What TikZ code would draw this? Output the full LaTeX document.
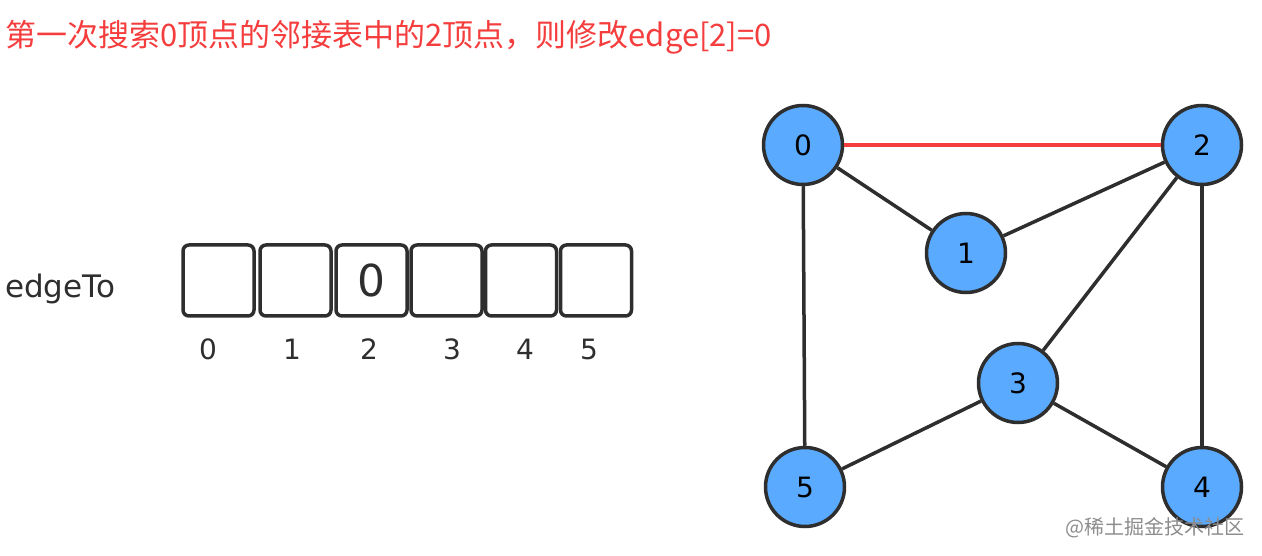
\documentclass[tikz,border=0pt]{standalone}
\usepackage{fontspec}
\setmainfont{DejaVu Sans}
\newfontfamily\cjk{Noto Sans CJK SC}
\usepackage{xcolor}
\usetikzlibrary{positioning, shapes.geometric, calc}

\definecolor{vertexblue}{HTML}{5AAAFF}
\definecolor{edgegray}{HTML}{2E2E2E}
\definecolor{titlered}{HTML}{F53D3D}

\begin{document}
\begin{tikzpicture}
    [x=1pt,y=-1pt,
     vertex/.style={circle,draw=edgegray,fill=vertexblue,line width=3.5pt,
                    minimum size=79pt,inner sep=0pt,font=\fontsize{28}{28}\selectfont},
     cell/.style={rectangle,draw=edgegray,line width=3.5pt,rounded corners=6pt,
                  minimum width=71pt,minimum height=71pt,inner sep=0pt,
                  font=\fontsize{44}{44}\selectfont},
     index/.style={font=\fontsize{28}{28}\selectfont,text=edgegray},
     link/.style={draw=edgegray,line width=3.5pt}]
    \useasboundingbox (0,0) rectangle (1262,556);

    \node (title) at (5,37) [anchor=west,inner sep=0pt,text=titlered]
        {\cjk\fontsize{31}{31}\selectfont 第一次搜索0顶点的邻接表中的2顶点，则修改edge[2]=0};

    \node (label) at (5,289) [anchor=west,inner sep=0pt,font=\fontsize{31}{31}\selectfont,text=edgegray] {edgeTo};

    \node (c0) at (218.5,280.5) [cell] {};
    \node (c1) at (295.5,280.5) [cell] {};
    \node (c2) at (371.5,280.5) [cell,text=edgegray] {0};
    \node (c3) at (446.5,280.5) [cell] {};
    \node (c4) at (521,280.5) [cell] {};
    \node (c5) at (596,280.5) [cell] {};

    \node (i0) at (208,349) [index] {0};
    \node (i1) at (292,349) [index] {1};
    \node (i2) at (369,349) [index] {2};
    \node (i3) at (452,349) [index] {3};
    \node (i4) at (525,349) [index] {4};
    \node (i5) at (589,349) [index] {5};

    \node (v0) at (803,145) [vertex] {0};
    \node (v2) at (1202,145) [vertex] {2};
    \node (v1) at (966,253) [vertex] {1};
    \node (v3) at (1018,383) [vertex] {3};
    \node (v5) at (805,487) [vertex] {5};
    \node (v4) at (1202,487) [vertex] {4};

    \draw[draw=titlered,line width=3.5pt] (v0) -- (v2);
    \draw[link] (v0) -- (v1);
    \draw[link] (v1) -- (v2);
    \draw[link] (v2) -- (v3);
    \draw[link] (v2) -- (v4);
    \draw[link] (v0) -- (v5);
    \draw[link] (v5) -- (v3);
    \draw[link] (v3) -- (v4);

    \node (mark) at (1245,528) [anchor=east,inner sep=0pt,text=black!45]
        {\cjk\fontsize{20}{20}\selectfont @稀土掘金技术社区};
\end{tikzpicture}
\end{document}
